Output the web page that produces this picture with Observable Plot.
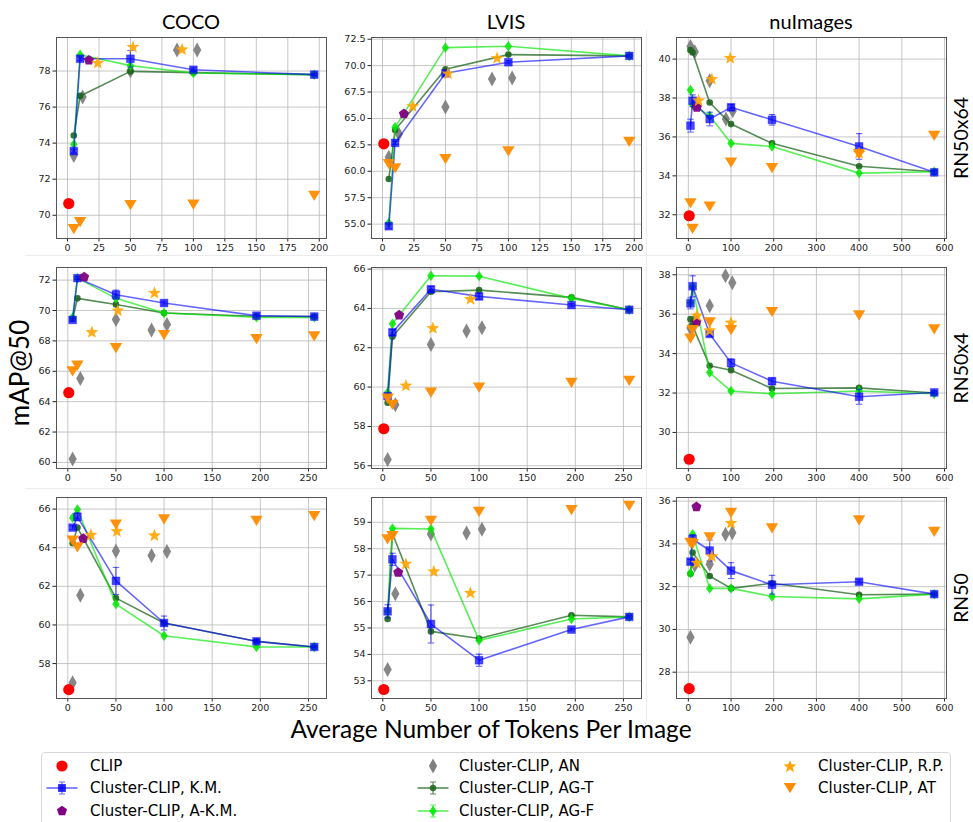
<!DOCTYPE html>
<html>
<head>
<meta charset="utf-8">
<script src="https://cdn.jsdelivr.net/npm/d3@7"></script>
<script src="https://cdn.jsdelivr.net/npm/@observablehq/plot@0.6"></script>
<style>
  body { margin: 0; background: #fff; }
  #fig { position: relative; width: 973px; height: 822px; overflow: hidden; background: #fff; }
  .panel { position: absolute; }
  .panel svg { overflow: visible; }
  .lbl { position: absolute; white-space: nowrap; line-height: 1; font-family: Lato, "Open Sans", sans-serif; color: #000; }
  #legend { position: absolute; left: 41px; top: 752px; width: 910px; height: 90px; border: 1px solid #d8d8d8; border-radius: 4px; box-sizing: border-box; }
  .leg { position: absolute; font-family: "DejaVu Sans", sans-serif; font-size: 15px; line-height: 1; white-space: nowrap; color: #000; transform: translateY(-50%); }
  .legicon { position: absolute; transform: translate(-50%, -50%); overflow: visible; }
</style>
</head>
<body>
<div id="fig"></div>
<script>
// ---------------- DATA ----------------
// Panels in row-major order: RN50x64 (COCO, LVIS, nuImages), RN50x4 (...), RN50 (...)
const datasets = ["COCO", "LVIS", "nuImages"];
const backbones = ["RN50x64", "RN50x4", "RN50"];
const seriesNames = ["CLIP", "Cluster-CLIP, K.M.", "Cluster-CLIP, A-K.M.", "Cluster-CLIP, AN",
  "Cluster-CLIP, AG-T", "Cluster-CLIP, AG-F", "Cluster-CLIP, R.P.", "Cluster-CLIP, AT"];

// token counts of the line series (K.M., AG-T, AG-F) and of AT
const lineX = [
  [5, 10, 50, 100, 196],
  [5, 10, 50, 100, 196],
  [5, 10, 50, 100, 196, 400, 576],
  [5, 10, 50, 100, 196, 256],
  [5, 10, 50, 100, 196, 256],
  [5, 10, 50, 100, 196, 400, 576],
  [5, 10, 50, 100, 196, 256],
  [5, 10, 50, 100, 196, 256],
  [5, 10, 50, 100, 196, 400, 576]
];
const kmY = [
  [73.56, 78.68, 78.68, 78.07, 77.8],
  [54.8, 62.69, 69.27, 70.32, 70.92],
  [36.58, 37.86, 36.92, 37.52, 36.88, 35.51, 34.18],
  [69.38, 72.13, 71.04, 70.49, 69.66, 69.6],
  [59.54, 62.78, 64.97, 64.61, 64.17, 63.93],
  [36.55, 37.42, 35.0, 33.53, 32.6, 31.81, 32.03],
  [65.04, 65.6, 62.28, 60.1, 59.15, 58.86],
  [55.63, 57.6, 55.15, 53.78, 54.94, 55.42],
  [33.17, 34.23, 33.69, 32.75, 32.09, 32.23, 31.65]
];
const kmErr = [
  [0.1, 0.1, 0.46, 0.1, 0.05],
  [0.2, 0.15, 0.15, 0.15, 0.1],
  [0.33, 0.3, 0.35, 0.15, 0.27, 0.66, 0.1],
  [0.1, 0.1, 0.3, 0.12, 0.1, 0.08],
  [0.1, 0.15, 0.15, 0.15, 0.08, 0.05],
  [0.28, 0.53, 0.12, 0.2, 0.15, 0.38, 0.08],
  [0.1, 0.2, 0.7, 0.36, 0.1, 0.05],
  [0.25, 0.23, 0.72, 0.23, 0.05, 0.05],
  [0.1, 0.2, 0.49, 0.37, 0.44, 0.1, 0.05]
];
const agtY = [
  [74.42, 76.62, 77.98, 77.91, 77.8],
  [59.27, 63.9, 69.65, 71.04, 70.92],
  [40.46, 40.34, 37.77, 36.66, 35.67, 34.49, 34.21],
  [69.44, 70.8, 70.4, 69.84, 69.62, 69.6],
  [59.2, 62.56, 64.85, 64.93, 64.56, 63.93],
  [35.75, 35.41, 33.38, 33.16, 32.23, 32.26, 32.0],
  [64.23, 65.04, 61.39, 60.1, 59.15, 58.86],
  [55.34, 58.58, 54.87, 54.6, 55.48, 55.42],
  [32.6, 33.6, 32.5, 31.92, 32.16, 31.62, 31.65]
];
const agfY = [
  [73.93, 78.9, 78.3, 77.89, 77.8],
  [55.1, 64.18, 71.7, 71.83, 70.92],
  [38.41, 37.65, 37.09, 35.67, 35.51, 34.14, 34.21],
  [69.55, 72.13, 70.8, 69.84, 69.55, 69.55],
  [59.73, 63.22, 65.66, 65.64, 64.51, 63.93],
  [36.58, 37.4, 33.04, 32.1, 31.96, 32.1, 31.96],
  [65.55, 65.98, 61.08, 59.44, 58.86, 58.86],
  [55.63, 58.77, 58.75, 54.53, 55.34, 55.42],
  [32.63, 34.45, 31.92, 31.92, 31.54, 31.43, 31.65]
];
const atY = [
  [69.24, 69.63, 70.57, 70.6, 71.09],
  [60.7, 60.3, 61.17, 61.9, 62.8],
  [32.6, 31.28, 32.43, 34.69, 34.4, 35.12, 36.06],
  [66.01, 66.38, 67.54, 68.39, 68.13, 68.3],
  [59.42, 59.1, 59.73, 59.98, 60.22, 60.32],
  [34.77, 35.2, 35.6, 35.2, 36.12, 35.95, 35.24],
  [64.37, 64.02, 65.21, 65.47, 65.4, 65.64],
  [58.36, 58.48, 59.06, 59.4, 59.47, 59.63],
  [34.06, 34.0, 34.31, 35.46, 34.73, 35.11, 34.57]
];
const anX = [
  [5, 12, 50, 87, 103], [5, 13, 50, 87, 103], [5, 15, 50, 88, 104],
  [5, 13, 50, 87, 103], [5, 13, 50, 87, 103], [5, 15, 50, 87, 103],
  [5, 13, 50, 87, 103], [5, 13, 50, 87, 103], [5, 15, 50, 87, 103]
];
const anY = [
  [73.32, 76.56, 78.0, 79.16, 79.16],
  [61.33, 63.54, 66.08, 68.73, 68.83],
  [40.65, 40.38, 38.89, 36.92, 37.35],
  [60.22, 65.53, 69.4, 68.72, 69.07],
  [56.32, 59.1, 62.17, 62.85, 63.02],
  [35.3, 35.7, 36.43, 37.95, 37.6],
  [57.0, 61.54, 63.83, 63.59, 63.8],
  [53.43, 56.3, 58.56, 58.6, 58.74],
  [29.63, 33.0, 33.05, 34.45, 34.52]
];
const rpX = [
  [24, 52, 91], [24, 52, 91], [24, 55, 98, 400],
  [25, 52, 90], [24, 52, 91], [20, 50, 100],
  [24, 51, 90], [24, 53, 91], [20, 55, 100]
];
const rpY = [
  [78.48, 79.36, 79.23],
  [66.2, 69.3, 70.76],
  [37.9, 39.0, 40.08, 35.2],
  [68.61, 70.03, 71.19],
  [60.1, 63.02, 64.5],
  [35.95, 35.2, 35.6],
  [64.69, 64.88, 64.66],
  [57.45, 57.16, 56.35],
  [33.13, 33.44, 35.0]
];
const clipX = [1, 1, 2, 1, 1, 2, 1, 1, 2];
const clipY = [70.65, 62.6, 31.95, 64.59, 57.88, 28.64, 56.65, 52.67, 27.23];
const akmX = [17, 17, 20, 17, 17, 19, 16, 16, 19];
const akmY = [78.6, 65.44, 37.52, 72.2, 63.66, 35.6, 64.47, 57.1, 35.73];

// axis ticks
const xTicksShort = [0, 25, 50, 75, 100, 125, 150, 175, 200];
const xTicksMid = [0, 50, 100, 150, 200, 250];
const xTicksLong = [0, 100, 200, 300, 400, 500, 600];
const yTicks = [
  [70, 72, 74, 76, 78],
  [55, 57.5, 60, 62.5, 65, 67.5, 70, 72.5],
  [32, 34, 36, 38, 40],
  [60, 62, 64, 66, 68, 70, 72],
  [56, 58, 60, 62, 64, 66],
  [30, 32, 34, 36, 38],
  [58, 60, 62, 64, 66],
  [53, 54, 55, 56, 57, 58, 59],
  [28, 30, 32, 34, 36]
];
const yDomains = [
  [68.71, 79.86], [53.64, 72.66], [30.78, 41.11],
  [59.6, 72.83], [55.86, 66.08], [28.17, 38.37],
  [56.19, 66.6], [52.33, 59.94], [26.77, 36.17]
];

// ---------------- SYMBOLS ----------------
const rad = size => Math.sqrt(size / Math.PI);
const symCircle = {draw(c, size) { const q = rad(size); c.moveTo(q, 0); c.arc(0, 0, q, 0, 2 * Math.PI); }};
const symSquare = {draw(c, size) { const s = rad(size); c.rect(-s, -s, 2 * s, 2 * s); }};
const symDiamond = {draw(c, size) { const s = rad(size); c.moveTo(0, -s); c.lineTo(s * 0.72, 0); c.lineTo(0, s); c.lineTo(-s * 0.72, 0); c.closePath(); }};
const symThinDiamond = {draw(c, size) { const s = rad(size); c.moveTo(0, -s); c.lineTo(s * 0.55, 0); c.lineTo(0, s); c.lineTo(-s * 0.55, 0); c.closePath(); }};
const symTriDown = {draw(c, size) { const s = rad(size); c.moveTo(-s, -s * 0.8); c.lineTo(s, -s * 0.8); c.lineTo(0, s * 0.85); c.closePath(); }};
const symStar = {draw(c, size) {
  const s = rad(size), r2 = s * 0.42;
  for (let k = 0; k < 10; k++) {
    const r = k % 2 === 0 ? s : r2, a = -Math.PI / 2 + k * Math.PI / 5;
    const px = r * Math.cos(a), py = r * Math.sin(a) + s * 0.1;
    if (k === 0) c.moveTo(px, py); else c.lineTo(px, py);
  }
  c.closePath();
}};
const symPentagon = {draw(c, size) {
  const s = rad(size);
  for (let k = 0; k < 5; k++) {
    const a = -Math.PI / 2 + k * 2 * Math.PI / 5;
    if (k === 0) c.moveTo(s * Math.cos(a), s * Math.sin(a)); else c.lineTo(s * Math.cos(a), s * Math.sin(a));
  }
  c.closePath();
}};
const symCap = {draw(c, size) { const s = rad(size); c.moveTo(-s, 0); c.lineTo(s, 0); }};

// ---------------- LAYOUT ----------------
const fig = document.getElementById("fig");
const W = 270, H = 201, ML = 42, MR = 8, MT = 8, MB = 24;
const colLeft = [56, 371, 676], rowTop = [37, 267, 497];
const BLUE = "#0000ff", AGT = "#1d651d", AGF = "#00e600";

function pts(xs, ys, es) { return xs.map((x, j) => ({x, y: ys[j], e: es ? es[j] : 0})); }

function panel(i) {
  const row = Math.floor(i / 3), col = i % 3;
  const xs = lineX[i];
  const maxX = xs[xs.length - 1];
  const xDomain = [-0.05 * (maxX - 1) + 1, maxX + 0.05 * (maxX - 1)];
  const xt = col === 2 ? xTicksLong : (row === 0 ? xTicksShort : xTicksMid);
  const km = pts(xs, kmY[i], kmErr[i]);
  const agt = pts(xs, agtY[i]);
  const agf = pts(xs, agfY[i]);
  const at = pts(xs, atY[i]);
  const an = pts(anX[i], anY[i]);
  const rp = pts(rpX[i], rpY[i]);
  const clip = [{x: clipX[i], y: clipY[i]}];
  const akm = [{x: akmX[i], y: akmY[i]}];
  const yFmt = i === 1 ? d3.format(".1f") : d3.format("d");

  const p = Plot.plot({
    width: W + ML + MR, height: H + MT + MB,
    marginLeft: ML, marginRight: MR, marginTop: MT, marginBottom: MB,
    style: {fontFamily: "DejaVu Sans, sans-serif", fontSize: "9.5px", color: "#222", background: "transparent", overflow: "visible"},
    x: {domain: xDomain, ticks: xt, tickSize: 3.5, tickPadding: 2, label: null},
    y: {domain: yDomains[i], ticks: yTicks[i], tickFormat: yFmt, tickSize: 3.5, tickPadding: 2.5, label: null},
    marks: [
      Plot.ruleX(xt, {stroke: "#b8b8b8", strokeWidth: 1, strokeOpacity: 0.8}),
      Plot.ruleY(yTicks[i], {stroke: "#b8b8b8", strokeWidth: 1, strokeOpacity: 0.8}),
      Plot.dot(an, {x: "x", y: "y", symbol: symThinDiamond, r: 7.5, fill: "#808080", fillOpacity: 0.95, stroke: "none"}),
      Plot.line(agt, {x: "x", y: "y", stroke: AGT, strokeOpacity: 0.75, strokeWidth: 1.6}),
      Plot.dot(agt, {x: "x", y: "y", symbol: symCircle, r: 3.3, fill: AGT, fillOpacity: 0.9, stroke: "none"}),
      Plot.line(agf, {x: "x", y: "y", stroke: AGF, strokeOpacity: 0.65, strokeWidth: 1.6}),
      Plot.dot(agf, {x: "x", y: "y", symbol: symDiamond, r: 5.2, fill: AGF, fillOpacity: 0.85, stroke: "none"}),
      Plot.line(km, {x: "x", y: "y", stroke: BLUE, strokeOpacity: 0.6, strokeWidth: 1.6}),
      Plot.ruleX(km, {x: "x", y1: d => d.y - d.e, y2: d => d.y + d.e, stroke: BLUE, strokeOpacity: 0.6, strokeWidth: 1.3}),
      Plot.dot(km, {x: "x", y: d => d.y - d.e, symbol: symCap, r: 3.2, stroke: BLUE, strokeOpacity: 0.6, strokeWidth: 1.1}),
      Plot.dot(km, {x: "x", y: d => d.y + d.e, symbol: symCap, r: 3.2, stroke: BLUE, strokeOpacity: 0.6, strokeWidth: 1.1}),
      Plot.dot(km, {x: "x", y: "y", symbol: symSquare, r: 3.9, fill: BLUE, fillOpacity: 0.72, stroke: BLUE, strokeOpacity: 0.35, strokeWidth: 1}),
      Plot.dot(akm, {x: "x", y: "y", symbol: symPentagon, r: 5.3, fill: "#800080", fillOpacity: 0.95, stroke: "none"}),
      Plot.dot(rp, {x: "x", y: "y", symbol: symStar, r: 6.8, fill: "#ffa500", fillOpacity: 0.9, stroke: "none"}),
      Plot.dot(at, {x: "x", y: "y", symbol: symTriDown, r: 6.2, fill: "#ff8c00", fillOpacity: 0.95, stroke: "none"}),
      Plot.dot(clip, {x: "x", y: "y", symbol: symCircle, r: 5.6, fill: "#ff0000", stroke: "none"}),
      Plot.frame({stroke: "#555", strokeWidth: 1})
    ]
  });
  const div = document.createElement("div");
  div.className = "panel";
  div.style.left = (colLeft[col] - ML) + "px";
  div.style.top = (rowTop[row] - MT) + "px";
  div.appendChild(p);
  fig.appendChild(div);
}

// faint sub-figure separators
function sep(x, y, w, h) {
  const d = document.createElement("div");
  d.style.cssText = `position:absolute;left:${x}px;top:${y}px;width:${w}px;height:${h}px;background:#ececec;`;
  fig.appendChild(d);
}
sep(646, 30, 1, 690);
sep(25, 255, 925, 1);
sep(25, 488, 925, 1);

for (let i = 0; i < 9; i++) panel(i);

function label(text, cx, cy, size, rotate) {
  const d = document.createElement("div");
  d.className = "lbl";
  d.textContent = text;
  d.style.left = cx + "px";
  d.style.top = cy + "px";
  d.style.fontSize = size + "px";
  d.style.transform = "translate(-50%, -50%)" + (rotate ? " rotate(-90deg)" : "");
  fig.appendChild(d);
}
datasets.forEach((t, c) => label(t, colLeft[c] + W / 2, 21, 20));
backbones.forEach((t, r) => label(t, 961, rowTop[r] + H / 2, 19.5, true));
label("mAP@50", 19, 373, 26, true);
label("Average Number of Tokens Per Image", 491, 729, 24.5);

// ---------------- LEGEND ----------------
const legend = document.createElement("div");
legend.id = "legend";
fig.appendChild(legend);

function icon(kind) {
  const ns = "http://www.w3.org/2000/svg";
  const svg = document.createElementNS(ns, "svg");
  svg.setAttribute("width", 32); svg.setAttribute("height", 20);
  svg.setAttribute("viewBox", "-16 -10 32 20");
  const path = (d, attrs) => { const e = document.createElementNS(ns, "path"); e.setAttribute("d", d); for (const k in attrs) e.setAttribute(k, attrs[k]); svg.appendChild(e); };
  const sym = (s, r) => { const p = d3.path(); s.draw(p, r * r * Math.PI); return p.toString(); };
  const errIcon = (color, op, marker, r) => {
    path("M-15.5,0H15.5", {stroke: color, "stroke-opacity": op, "stroke-width": 1.6, fill: "none"});
    path("M0,-6V6M-3,-6H3M-3,6H3", {stroke: color, "stroke-opacity": op, "stroke-width": 1.2, fill: "none"});
    path(sym(marker, r), {fill: color, "fill-opacity": 0.85});
  };
  if (kind === 0) path(sym(symCircle, 5.6), {fill: "#ff0000"});
  if (kind === 1) errIcon(BLUE, 0.6, symSquare, 3.9);
  if (kind === 2) path(sym(symPentagon, 5.3), {fill: "#800080"});
  if (kind === 3) path(sym(symThinDiamond, 7.5), {fill: "#808080"});
  if (kind === 4) errIcon(AGT, 0.75, symCircle, 3.3);
  if (kind === 5) errIcon(AGF, 0.65, symDiamond, 5.2);
  if (kind === 6) path(sym(symStar, 6.8), {fill: "#ffa500"});
  if (kind === 7) path(sym(symTriDown, 6.2), {fill: "#ff8c00"});
  return svg;
}
const legCols = [{ix: 62, tx: 90}, {ix: 433, tx: 459}, {ix: 790, tx: 818}];
const legRows = [766, 788, 811];
seriesNames.forEach((name, k) => {
  const c = Math.floor(k / 3), r = k % 3;
  const ic = icon(k);
  ic.setAttribute("class", "legicon");
  ic.style.left = legCols[c].ix + "px";
  ic.style.top = legRows[r] + "px";
  fig.appendChild(ic);
  const t = document.createElement("div");
  t.className = "leg";
  t.textContent = name;
  t.style.left = legCols[c].tx + "px";
  t.style.top = legRows[r] + "px";
  fig.appendChild(t);
});
</script>
</body>
</html>
